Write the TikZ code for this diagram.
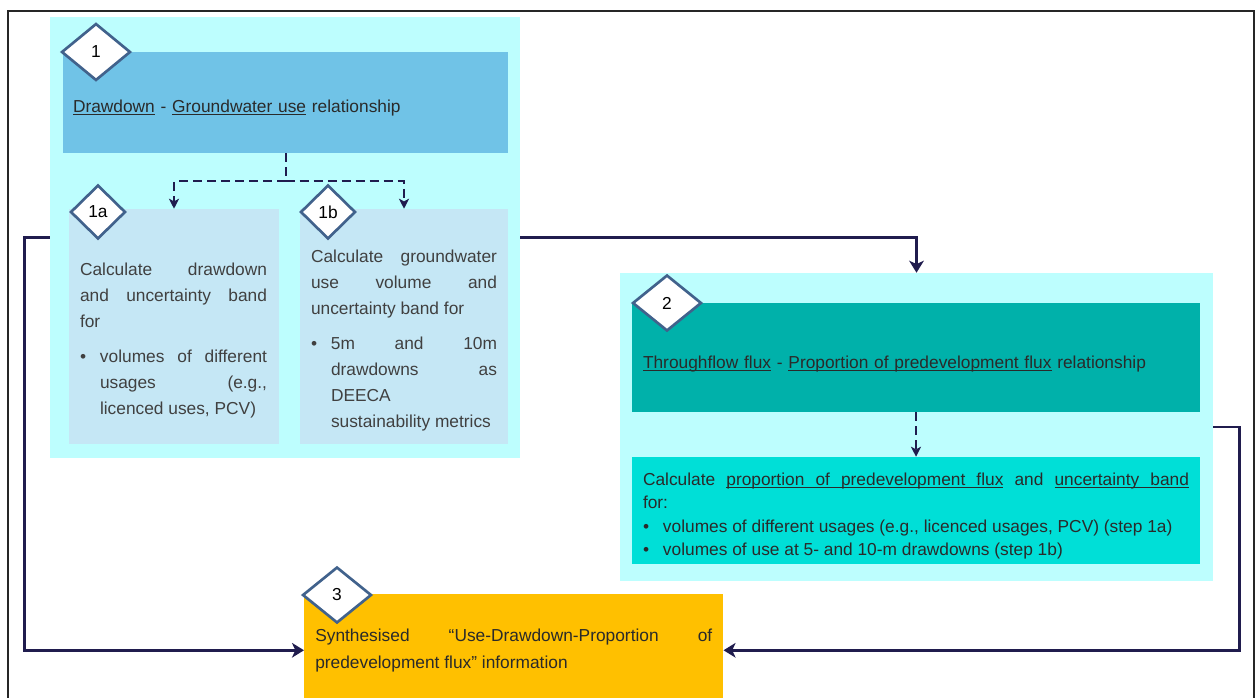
\documentclass[tikz,border=0pt]{standalone}
\usepackage{fontspec}
\setmainfont{Liberation Sans}
\usetikzlibrary{shapes.geometric,arrows.meta}

\definecolor{rim}{HTML}{262626}
\definecolor{pale}{HTML}{BDFEFE}
\definecolor{sky}{HTML}{70C3E7}
\definecolor{mist}{HTML}{C5E7F5}
\definecolor{tealbox}{HTML}{00B1AA}
\definecolor{aqua}{HTML}{00DFD7}
\definecolor{amber}{HTML}{FFC000}
\definecolor{navy}{HTML}{201C4E}
\definecolor{steel}{HTML}{41628C}
\definecolor{ink}{HTML}{404040}
\definecolor{dark}{HTML}{2A2A2A}

\hyphenpenalty=10000
\exhyphenpenalty=10000
\hbadness=10000
\tolerance=9999

% bullet line: the bullet, then a justified block beside it
\newlength{\bulskip}
\newcommand{\bul}[2]{\par\setlength{\bulskip}{\baselineskip}\noindent
  \makebox[15pt][l]{\textbullet}\parbox[t]{#1}{\setlength{\baselineskip}{\bulskip}#2}}
% underlined word, and an underlined stretchable space
\newsavebox{\ubox}
\newcommand{\uw}[1]{\sbox{\ubox}{#1}\rlap{\rule[-2.2pt]{\wd\ubox}{0.7pt}}\usebox{\ubox}}
\newcommand{\usp}{\leaders\hrule height -1.5pt depth 2.2pt\hskip\fontdimen2\font plus\fontdimen3\font minus\fontdimen4\font\relax}

\begin{document}
\begin{tikzpicture}
  [
    x=0.75pt, y=-0.75pt,
    txt/.style   =
      {font=\fontsize{13}{19.5}\selectfont, text=ink,
       execute at begin node=\setlength{\parindent}{0pt}},
    group/.style =
      {rectangle, fill=pale, inner sep=0pt},
    head/.style  =
      {rectangle, inner xsep=7.5pt, align=left, txt, text=dark},
    sub/.style   =
      {rectangle, fill=mist, inner sep=0pt},
    para/.style  =
      {inner sep=0pt, align=justify, txt},
    tag/.style   =
      {diamond, draw=steel, line width=2pt, fill=white, inner sep=0pt,
       font=\fontsize{13}{15}\selectfont},
    flow/.style  = {draw=navy, line width=2pt},
    hint/.style  = {draw=navy, line width=1.5pt, dash pattern=on 6.75pt off 3.75pt},
    big/.tip     = {Stealth[length=9pt, width=11pt, inset=2.5pt]},
    small/.tip   = {Stealth[length=7.5pt, width=7.5pt, inset=2pt]}
  ]
  \path[use as bounding box] (0,0) rectangle (1255,697);
  \clip (0,0) rectangle (1255,697);

  % outer frame
  \draw[rim, line width=1.5pt] (8,710) |- (1253.5,11) -- (1253.5,710);

  \node [group, minimum width=352.5pt, minimum height=330.75pt] at (285,237.5) (g1) {};
  \node [group, minimum width=444.75pt, minimum height=231pt]   at (916.5,427) (g2) {};

  \node [head, fill=sky, text width=318.75pt, minimum height=75.75pt,
         text height=16pt, text depth=1.75pt] at (285.5,102.5) (b1)
    {\uw{Drawdown} - \uw{Groundwater use} relationship};
  \node [sub, minimum width=157.5pt, minimum height=176.25pt] at (174,326.5) (b1a) {};
  \node [sub, minimum width=156pt,   minimum height=176.25pt] at (404,326.5) (b1b) {};
  \node [para, text width=140.25pt] at (173.5,340.5) (t1a)
    {Calculate drawdown\linebreak and uncertainty band\linebreak for\par\vspace{6.75pt}%
     \bul{125.25pt}{volumes of different\linebreak usages (e.g.,\linebreak licenced uses, PCV)}};
  \node [para, text width=139.5pt] at (404,341) (t1b)
    {Calculate groundwater\linebreak use volume and\linebreak uncertainty band for\par\vspace{6.75pt}%
     \bul{124.5pt}{5m and 10m\linebreak drawdowns as\linebreak DEECA\linebreak sustainability metrics}};

  \node [head, fill=tealbox, text width=409.5pt, inner xsep=8.25pt, minimum height=81.75pt,
         text height=17pt, text depth=1.25pt] at (916,357.5) (b2)
    {\uw{Throughflow flux} - \uw{Proportion of predevelopment flux} relationship};
  \node [rectangle, fill=aqua, minimum width=426pt, minimum height=80.25pt] at (916,510.5) (b2b) {};
  \node [para, text=dark, text width=409.5pt, font=\fontsize{13}{17.6}\selectfont] at (916,516) (t2b)
    {Calculate \uw{proportion}\usp\uw{of}\usp\uw{predevelopment}\usp\uw{flux} and
     \uw{uncertainty}\usp\uw{band}\linebreak for:%
     \bul{394.5pt}{volumes of different usages (e.g., licenced usages, PCV) (step 1a)}%
     \bul{394.5pt}{volumes of use at 5- and 10-m drawdowns (step 1b)}};

  \node [head, fill=amber, text width=297.75pt, inner xsep=8.25pt, minimum height=84pt, align=justify,
         font=\fontsize{13}{20}\selectfont, anchor=north west] at (304,594) (b3)
    {Synthesised “Use-Drawdown-Proportion of\linebreak predevelopment flux” information};

  \draw[hint, ->, >=small] (b1.south) -- ++(0,28) -| (b1a.north);
  \draw[hint, ->, >=small] (b1.south) -- ++(0,28) -| (b1b.north);
  \draw[hint, ->, >=small] (b2.south) -- (b2b.north);
  \draw[flow, ->, >=big]   (g1.east)  -| (g2.north);
  \draw[flow, ->, >=big]   (g1.west)  -- ++(-25,0) |- (b3.west);
  \draw[flow, ->, >=big]   (g2.east)  -- ++(26,0)  |- (b3.east);

  \node [tag, minimum width=51.75pt, minimum height=42.75pt] at (96,52)   (d1)  {1};
  \node [tag, minimum width=41.25pt, minimum height=40.5pt]  at (98,212)  (d1a) {1a};
  \node [tag, minimum width=41.25pt, minimum height=40.5pt]  at (328,212) (d1b) {1b};
  \node [tag, minimum width=51.75pt, minimum height=42pt]    at (667,303) (d2)  {2};
  \node [tag, minimum width=51.75pt, minimum height=42pt]    at (337,595) (d3)  {3};
\end{tikzpicture}
\end{document}
